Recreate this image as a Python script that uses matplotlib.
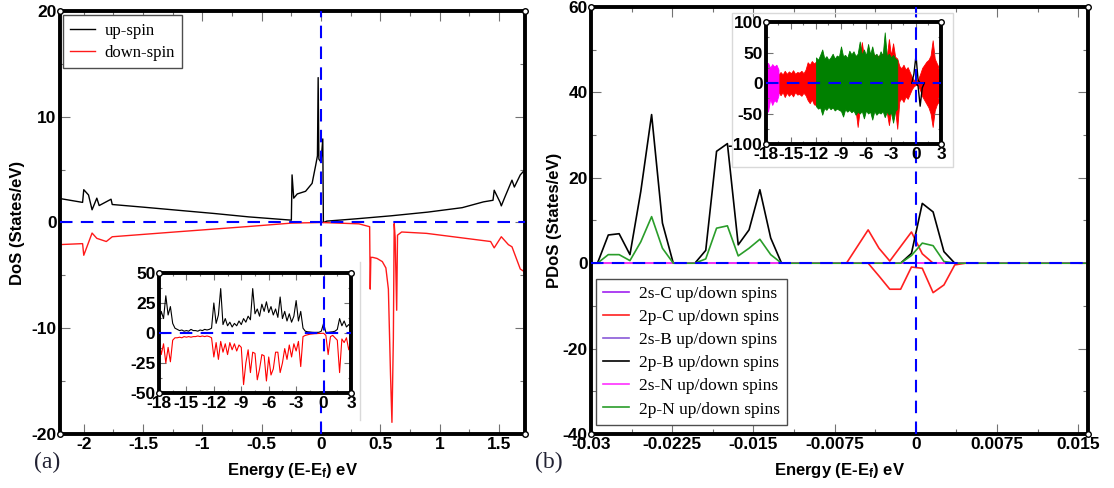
import numpy as np
import matplotlib
matplotlib.use("Agg")
import matplotlib.pyplot as plt
from matplotlib.ticker import MultipleLocator, FuncFormatter
from matplotlib.patches import Rectangle
from matplotlib.lines import Line2D

plt.rcParams['font.family'] = 'Liberation Sans'
plt.rcParams['font.weight'] = 'bold'
plt.rcParams['mathtext.fontset'] = 'custom'
plt.rcParams['mathtext.rm'] = 'Liberation Sans:bold'
plt.rcParams['mathtext.it'] = 'Liberation Sans:bold'
plt.rcParams['mathtext.bf'] = 'Liberation Sans:bold'

# (a) total DoS close to the Fermi level
e_up = [-2.22, -2.01, -2.0, -1.96, -1.93, -1.89, -1.87, -1.77, -1.76, -1.5, -1.21,
        -0.9, -0.61, -0.25, -0.244, -0.23, -0.2, -0.13, -0.075, -0.045, -0.03,
        -0.024, -0.018, 0.0, 0.015, 0.02, 0.05, 0.3, 0.59, 0.9, 1.19, 1.37, 1.45,
        1.46, 1.51, 1.52, 1.55, 1.61, 1.63, 1.68, 1.72]
dos_up = [2.3, 1.9, 3.1, 2.6, 1.2, 2.3, 1.6, 2.2, 1.7, 1.45, 1.16,
          0.85, 0.53, 0.22, 4.5, 2.3, 2.7, 2.95, 3.7, 5.4, 6.3,
          13.7, 6.0, 5.7, 7.9, 0.0, 0.13, 0.35, 0.63, 0.98, 1.4, 1.95, 2.1,
          3.05, 1.9, 1.57, 2.4, 4.0, 3.35, 4.5, 5.0]

e_dn = [-2.22, -2.01, -2.0, -1.97, -1.93, -1.89, -1.81, -1.76, -1.21, -0.61,
        -0.25, 0.0, 0.32, 0.41, 0.415, 0.42, 0.436, 0.472, 0.517, 0.547, 0.568,
        0.586, 0.598, 0.61, 0.617, 0.625, 0.638, 0.645, 0.68, 0.89, 1.43, 1.46,
        1.52, 1.58, 1.61, 1.68, 1.72]
dos_dn = [-2.1, -2.0, -3.1, -2.2, -1.0, -1.5, -1.8, -1.35, -0.88, -0.38,
          -0.06, 0.0, -0.13, -0.4, -6.3, -3.3, -3.3, -3.4, -3.7, -4.3, -6.3,
          -14.4, -18.9, -11.0, -0.1, -1.4, -8.3, -1.2, -0.9, -1.03, -1.8, -2.4,
          -1.35, -2.1, -2.3, -4.4, -4.7]

# inset of (a): full energy window, 0.25 eV steps from -18 to 3 eV
e_wide = np.arange(85) * 0.25 - 18.0
wide_up = [8, 18, 12, 31, 15, 22, 8, 4, 3, 2, 2.5, 1.5, 2, 1.5, 3, 2, 2, 1.5, 2.5, 2,
           3, 2.5, 3, 4, 25, 8, 15, 37, 7, 12, 6, 9, 5, 8, 6, 10, 7, 12, 9, 14,
           11, 37, 16, 20, 14, 24, 18, 26, 17, 22, 15, 20, 13, 30, 12, 18, 10, 16, 9, 14,
           27, 10, 18, 4, 1.5, 1, 0.8, 0.6, 0.5, 0.5, 0.6, 1.5, 8, 0.5, 0.5, 0.8, 1, 1.5, 3, 12,
           6, 10, 5, 7, 5]
wide_dn = [-5, -18, -9, -25, -12, -24, -6, -4, -4, -3.5, -4, -3, -3.5, -3, -3.5, -3, -3, -2.5, -3, -2.5,
           -3, -2.5, -3, -4, -20, -8, -22, -7, -16, -9, -18, -8, -14, -9, -15, -10, -12, -43, -25, -14,
           -33, -16, -17, -39, -30, -18, -19, -40, -20, -35, -30, -16, -16, -33, -25, -13, -22, -10, -20, -9,
           -15, -7, -28, -3, -2, -1.5, -1, -0.8, -0.6, -0.5, -0.4, -0.3, -0.2, -2, -18, -3, -2, -4, -6, -33,
           -5, -8, -4, -14, -6]

# (b) orbital projected DoS, 0.001 eV grid
e_pdos = np.arange(48) * 0.001 - 0.0304
pdos_2p_b = [0, 0, 6.6, 6.9, 2.0, 16.8, 34.8, 9.4, 0, 0, 0, 3, 26.2, 28, 4.3, 7.8, 17.2, 5.9, 0,
             0, 0, 0, 0, 0, 0, 0, 0, 0, 0, 0,
             2.3, 14, 12, 2.7,
             0, 0, 0, 0, 0, 0, 0, 0, 0, 0, 0, 0, 0, 0]
pdos_2p_n = [0, 0, 2.0, 2.0, 0.6, 5.0, 10.9, 3.5, 0, 0, 0, 1.0, 8.2, 8.75, 1.7, 3.5, 5.6, 2.0, 0,
             0, 0, 0, 0, 0, 0, 0, 0, 0, 0, 0,
             1.8, 4.7, 4.1, 0.4,
             0, 0, 0, 0, 0, 0, 0, 0, 0, 0, 0, 0, 0, 0]
pdos_2p_c_up = [0] * 24 + [0, 3.9, 7.8, 3.5, 0.5, 3.9, 7.3, 2.2, 0] + [0] * 15
pdos_2p_c_dn = [0] * 24 + [0, 0, 0, -3.0, -6.1, -6.1, -0.9, -1.2, -6.9, -5.1, -0.4, 0] + [0] * 12
pdos_2s_c = [0] * 48
pdos_2s_b = [0] * 48
pdos_2s_n = [0] * 48

# inset of (b): envelopes of the projected DoS over the full window
red_hi = ([12, 14, 10, 15, 12, 13, 14]
          + [18, 14, 20, 15, 19, 16, 21, 15, 18, 17, 20, 16, 22]
          + [34, 30, 36, 32]
          + [35, 38, 33, 40, 36, 38, 34, 39, 37, 40, 36, 38, 41, 37, 42, 38, 40, 44, 39, 45,
             42, 41, 67, 43, 45, 42, 46, 44, 47, 43, 45, 44, 48, 46, 44, 72, 45, 65, 43, 40]
          + [28, 24, 30, 22, 26, 18, 10]
          + [5, 3, 6, 15, 25, 30, 35, 38, 45, 70, 40, 32, 25, 22])
red_lo = ([-14, -12, -15, -11, -13, -12, -15]
          + [-20, -15, -23, -16, -21, -17, -22, -15, -19, -18, -21, -16, -20]
          + [-28, -33, -27, -35]
          + [-36, -40, -35, -42, -38, -40, -37, -41, -39, -43, -40, -42, -38, -44, -41, -43, -40, -45, -42, -44,
             -72, -43, -46, -42, -45, -44, -47, -43, -46, -45, -44, -47, -45, -46, -48, -69, -46, -50, -45, -75]
          + [-30, -25, -31, -22, -26, -18, -10]
          + [-5, -3, -4, -12, -22, -28, -34, -40, -50, -72, -45, -35, -30, -28])
green_hi = [42, 38, 46, 55, 40, 44, 38, 42, 48, 40, 45, 43, 60, 44, 46, 41, 53, 47, 52, 44,
            48, 68, 46, 55, 45, 64, 47, 60, 44, 48, 42, 52, 45, 83, 44, 48, 42, 46, 40, 38]
green_lo = [-38, -42, -40, -52, -41, -44, -39, -43, -40, -45, -42, -44, -46, -55, -43, -47, -44, -48, -45, -52,
            -47, -50, -46, -58, -45, -50, -47, -60, -46, -52, -48, -50, -46, -56, -47, -52, -48, -65, -46, -42]
magenta_hi = [28, 33, 25, 31, 27, 30, 22]
magenta_lo = [-30, -47, -26, -36, -28, -31, -20]
black_hi = [0, 15, 45, 5, 0, 0, 0]
black_lo = [0, 0, 0, -5, -38, -8, 0]


def fmt(v, pos):
    v = round(v, 6)
    return '0' if v == 0 else f'{v:g}'


def frame(ax, xmaj, xmin, ymaj, ymin, ticklen=7.0, fs=12.5):
    for s in ax.spines.values():
        s.set_linewidth(2.8)
    ax.xaxis.set_major_locator(MultipleLocator(xmaj))
    ax.xaxis.set_minor_locator(MultipleLocator(xmin))
    ax.yaxis.set_major_locator(MultipleLocator(ymaj))
    ax.yaxis.set_minor_locator(MultipleLocator(ymin))
    ax.xaxis.set_major_formatter(FuncFormatter(fmt))
    ax.yaxis.set_major_formatter(FuncFormatter(fmt))
    ax.tick_params(which='both', direction='in', top=True, right=True,
                   color='0.45', width=0.8, labelsize=fs, pad=2.5)
    ax.tick_params(which='major', length=ticklen)
    ax.tick_params(which='minor', length=ticklen * 0.5)
    ax.plot([0, 1, 0, 1], [0, 0, 1, 1], 'o', ms=4, mfc='white', mec='black',
            mew=1, transform=ax.transAxes, clip_on=False, zorder=10)


def fermi_lines(ax):
    ax.axhline(0, color='#0000ff', lw=1.5, dashes=(6, 4), zorder=6)
    ax.axvline(0, color='#0000ff', lw=1.5, dashes=(6, 4), zorder=6)


fig = plt.figure(figsize=(11.14, 4.88), dpi=100)

# ---- panel (a)
ax1 = fig.add_axes([0.0539, 0.1107, 0.4174, 0.8668])
ax1.plot(e_up, dos_up, color='black', lw=1.0, label='up-spin')
ax1.plot(e_dn, dos_dn, color='#ff1a1a', lw=1.0, label='down-spin')
fermi_lines(ax1)
ax1.set_xlim(-2.2, 1.72)
ax1.set_ylim(-20, 20)
frame(ax1, 0.5, 0.25, 10, 5)
ax1.set_xlabel('Energy (E-E$_f$) eV', fontsize=12, fontweight='bold', labelpad=6)
ax1.set_ylabel('DoS (States/eV)', fontsize=12, fontweight='bold', labelpad=5)
ax1.legend(loc='upper left', bbox_to_anchor=(0.006, 0.99), borderaxespad=0,
           prop={'family': 'Liberation Serif', 'weight': 'normal', 'size': 12},
           fancybox=False, edgecolor='0.3', framealpha=1, handlelength=1.45,
           handletextpad=0.6, labelspacing=0.35, borderpad=0.45)

ins1 = fig.add_axes([0.1427, 0.1947, 0.1724, 0.2459])
ins1.plot(e_wide, wide_up, color='black', lw=0.8)
ins1.plot(e_wide, wide_dn, color='#ff0000', lw=0.8)
fermi_lines(ins1)
ins1.set_xlim(-18, 3)
ins1.set_ylim(-50, 50)
frame(ins1, 3, 1.5, 25, 12.5, ticklen=5)
fig.add_artist(Line2D([360 / 1114] * 2, [1 - 262 / 488, 1 - 420 / 488],
                      color='0.85', lw=1))

# ---- panel (b)
ax2 = fig.add_axes([0.5305, 0.1107, 0.4461, 0.875])
ax2.plot(e_pdos, pdos_2s_c, color='#a020f0', lw=1.2, label='2s-C up/down spins')
ax2.plot(e_pdos, pdos_2p_c_up, color='#ff2020', lw=1.2, label='2p-C up/down spins')
ax2.plot(e_pdos, pdos_2p_c_dn, color='#ff2020', lw=1.2)
ax2.plot(e_pdos, pdos_2s_b, color='#8a5ad8', lw=1.2, label='2s-B up/down spins')
ax2.plot(e_pdos, pdos_2p_b, color='black', lw=1.2, label='2p-B up/down spins')
ax2.plot(e_pdos, pdos_2s_n, color='#ff30ff', lw=1.2, label='2s-N up/down spins')
ax2.plot(e_pdos, pdos_2p_n, color='#2a9d2a', lw=1.2, label='2p-N up/down spins')
fermi_lines(ax2)
ax2.set_xlim(-0.03, 0.0159)
ax2.set_ylim(-40, 60)
frame(ax2, 0.0075, 0.00375, 20, 10)
ax2.set_xlabel('Energy (E-E$_f$) eV', fontsize=12, fontweight='bold', labelpad=6)
ax2.set_ylabel('PDoS (States/eV)', fontsize=12, fontweight='bold', labelpad=0)
ax2.legend(loc='upper left', bbox_to_anchor=(0.01, 0.363), borderaxespad=0,
           prop={'family': 'Liberation Serif', 'weight': 'normal', 'size': 12.5},
           fancybox=False, edgecolor='0.3', framealpha=1, handlelength=1.5,
           handletextpad=0.6, labelspacing=0.4, borderpad=0.4)

ins2 = fig.add_axes([0.6876, 0.7049, 0.1571, 0.25])
ins2.fill_between(e_wide, red_lo, red_hi, color='#ff0000', lw=0.6)
ins2.fill_between(e_wide[:7], magenta_lo, magenta_hi, color='#ff00ff', lw=0.6)
ins2.fill_between(e_wide[24:64], green_lo, green_hi, color='#008000', lw=0.6)
ins2.plot(e_wide[70:77], black_hi, color='black', lw=1.0)
ins2.plot(e_wide[70:77], black_lo, color='black', lw=1.0)
fermi_lines(ins2)
ins2.set_xlim(-18, 3)
ins2.set_ylim(-100, 100)
frame(ins2, 3, 1.5, 50, 25, ticklen=5)
fig.add_artist(Rectangle((732 / 1114, 1 - 167 / 488), 221 / 1114, 154 / 488,
                         fill=False, ec='0.85', lw=1, transform=fig.transFigure))

fig.text(0.042, 0.053, '(a)', family='Liberation Serif', weight='normal',
         fontsize=17, color='#222233', ha='center', va='center')
fig.text(0.4928, 0.053, '(b)', family='Liberation Serif', weight='normal',
         fontsize=17, color='#222233', ha='center', va='center')

# tick labels in bold
fig.canvas.draw()
for ax in (ax1, ax2, ins1, ins2):
    for lab in ax.get_xticklabels() + ax.get_yticklabels():
        lab.set_fontweight('bold')

fig.savefig('out.png', dpi=100)
